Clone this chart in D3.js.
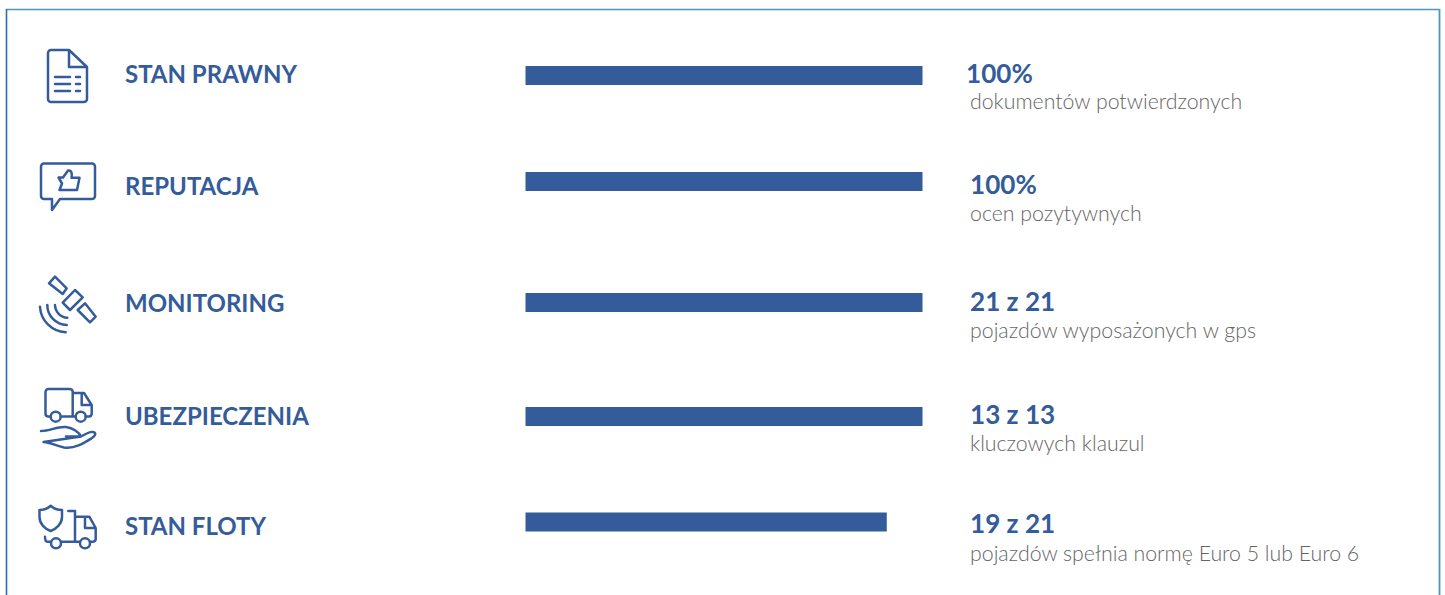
<!DOCTYPE html>
<html><head><meta charset="utf-8">
<script src="https://cdn.jsdelivr.net/npm/d3@7"></script>
<style>html,body{margin:0;padding:0;background:#fff;overflow:hidden}svg{display:block}</style>
</head><body><div id="c"></div>
<script>
const categories = ["STAN PRAWNY","REPUTACJA","MONITORING","UBEZPIECZENIA","STAN FLOTY"];
const percentValues = [100,100,100,100,91];
const valueLabels = ["100%","100%","21 z 21","13 z 13","19 z 21"];
const descriptions = ["dokumentów potwierdzonych","ocen pozytywnych","pojazdów wyposażonych w gps","kluczowych klauzul","pojazdów spełnia normę Euro 5 lub Euro 6"];

const rowCentres = [75.5,181.5,302.5,416.5,522];
const labelBase = [83,195,312,425,535];
const valueBase = [83,194,311,424,533];
const descBase = [108.7,220.7,337.7,450.7,560.7];
const valueX = [966,970,970,970,970];
const blue = "#355c9a", grey = "#666666";

const svg = d3.select("#c").append("svg").attr("width",1445).attr("height",595);
const frame = svg.append("g").attr("fill","none");
frame.append("path").attr("d","M6,9.5H1439.5").attr("stroke","#4f94bb").attr("stroke-width",1.6);
frame.append("path").attr("d","M6.5,9V595").attr("stroke","#1f74ab").attr("stroke-width",1.6);
frame.append("path").attr("d","M1439.5,9V595").attr("stroke","#4f94bb").attr("stroke-width",1.8);

const x = d3.scaleLinear().domain([0,100]).range([525.5,922.5]);
const y = d3.scaleOrdinal().domain(categories).range(rowCentres);
const barH = 19;

svg.selectAll("rect.bar").data(categories).join("rect").attr("class","bar")
  .attr("x",x(0)).attr("y",d=>y(d)-barH/2)
  .attr("width",(d,i)=>x(percentValues[i])-x(0)).attr("height",barH).attr("fill",blue);

const font = "Lato, 'Open Sans', sans-serif";
svg.selectAll("text.cat").data(categories).join("text").attr("class","cat")
  .attr("x",125).attr("y",(d,i)=>labelBase[i]).text(d=>d)
  .attr("font-family",font).attr("font-weight",700).attr("font-size",24).attr("fill",blue);
svg.selectAll("text.val").data(valueLabels).join("text").attr("class","val")
  .attr("x",(d,i)=>valueX[i]).attr("y",(d,i)=>valueBase[i]).text(d=>d)
  .attr("font-family",font).attr("font-weight",700).attr("font-size",26.1).attr("fill",blue);
svg.selectAll("text.desc").data(descriptions).join("text").attr("class","desc")
  .attr("x",970).attr("y",(d,i)=>descBase[i]).text(d=>d)
  .attr("font-family",font).attr("font-weight",300).attr("font-size",21.3).attr("fill",grey);

const icons = svg.append("g").attr("fill","none").attr("stroke",blue).attr("stroke-width",2.5)
  .attr("stroke-linecap","round").attr("stroke-linejoin","round");
const iconPaths = [
  // document
  "M69,50H51a3,3 0 0 0-3,3V99a3,3 0 0 0 3,3H84a3,3 0 0 0 3-3V67L69,50V67H87",
  "M55,77H70M55,84H70M55,91H70M76,77H80M76,84H80M76,91H80",
  // thumbs-up bubble
  "M44,163.5H92a3,3 0 0 1 3,3V196a3,3 0 0 1-3,3H60L52,210V199H44a3,3 0 0 1-3-3V166.5a3,3 0 0 1 3-3Z",
  "M58.5,177.5H63L68,170.5C71,170 72.5,172 71.5,177.8H79.5L77,190H59.5L62,183.5Z",
  // satellite
  "M55,276.7L66.7,288.3L62.7,294L49,283.3ZM75,290L82.7,297.3L70,310L62.7,302.7ZM85,303.3L95.7,316.7L90,322.3L77.7,310Z",
  "M40,306.7A27,27 0 0 0 65.7,332.3M47.3,305A20,20 0 0 0 66.7,325M55,305A13,13 0 0 0 67.3,317.7",
  // truck + hand
  "M50.7,416.5H48a3,3 0 0 1-2.5-3V392a3,3 0 0 1 3-3H70a3,3 0 0 1 2.7,3V416.5H60.7M72.7,393H84L91.7,405V414a3,3 0 0 1-2.5,2.5H85.7M72.7,416.5H75.7M81.7,393V405H91.7",
  "M50.7,416.7a5,5 0 1 0 10,0a5,5 0 1 0-10,0M75.7,416.7a5,5 0 1 0 10,0a5,5 0 1 0-10,0",
  "M41,431C50,431 58,426 66,427C73,428 79,432 81,436.5H66M81,436.5C86,434 90,431 93,432C97,433 95,436 92,438C84,443 75,449 64,447.5C56,446 50,442 43.5,442Z",
  // shield + truck
  "M50.7,505.7C47,509 43,510 39.5,510V517C39.5,524 45,529 50.7,531C56,529 62,524 62,517V510C58,510 54,509 50.7,505.7Z",
  "M68.3,511H75V541.7H61M75,516.7H89.3L95.7,528V539a3,3 0 0 1-3,2.7H90M85,516.7V528H95.7M51,541.7H47.5C45.5,541.7 45,540 45,536.7M75,541.7H80",
  "M51,543.3a5,5 0 1 0 10,0a5,5 0 1 0-10,0M80,543.3a5,5 0 1 0 10,0a5,5 0 1 0-10,0"
];
icons.selectAll("path").data(iconPaths).join("path").attr("d",d=>d);
</script></body></html>
